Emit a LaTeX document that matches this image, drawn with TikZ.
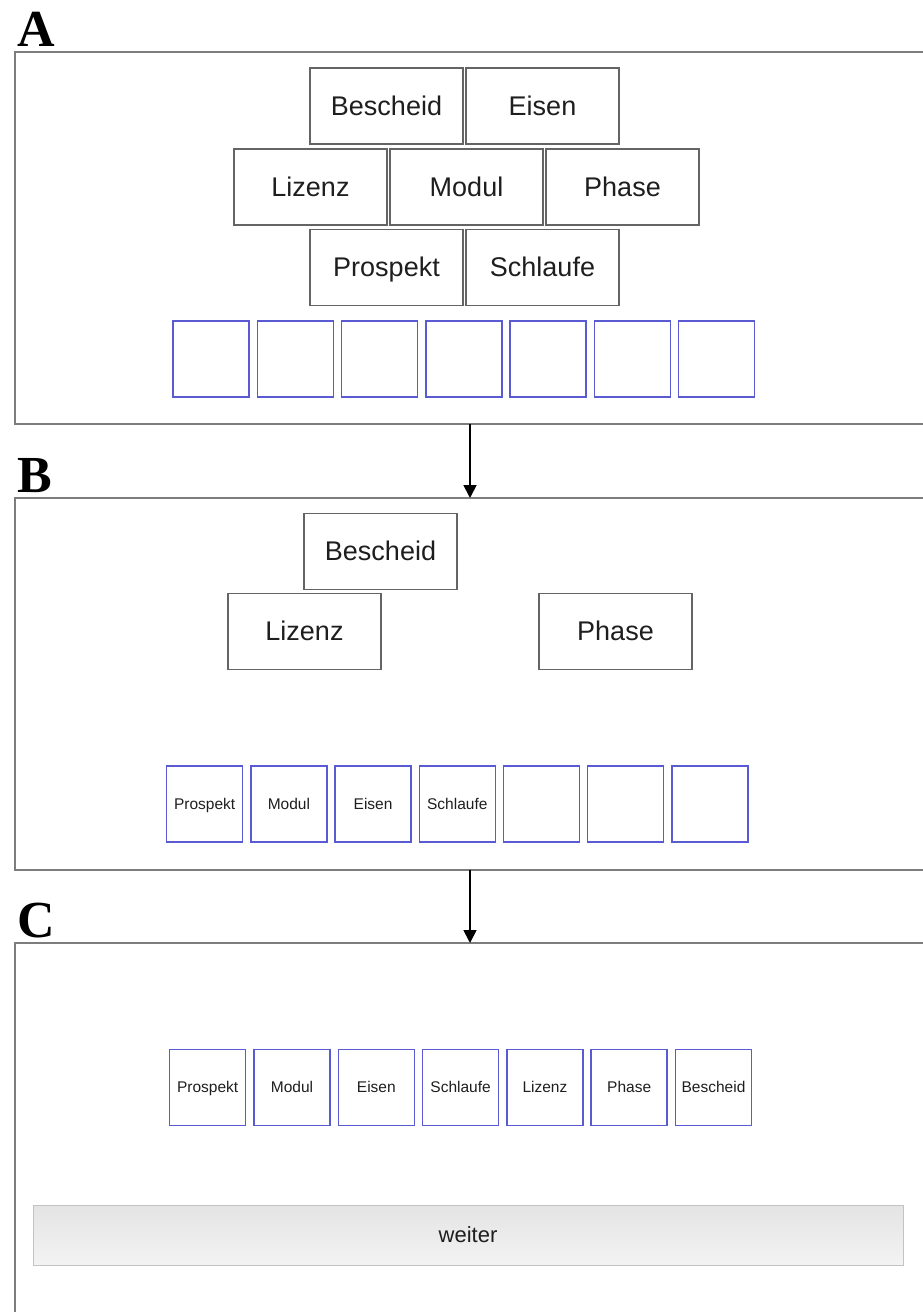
\documentclass[tikz,border=0pt]{standalone}
\usepackage{fontspec}
\setmainfont{Liberation Sans}
\newfontfamily\labelfont{Liberation Serif}
\usetikzlibrary{arrows.meta}
\definecolor{framegray}{RGB}{125,125,125}
\definecolor{tilegray}{RGB}{100,100,100}
\definecolor{slotblue}{RGB}{90,90,210}
\definecolor{txt}{RGB}{30,30,30}
\definecolor{btnborder}{RGB}{195,195,195}
\definecolor{btntop}{RGB}{228,228,228}
\definecolor{btnbot}{RGB}{243,243,243}
\tikzset{
  x=1pt, y=-1pt,
  panel/.style={draw=framegray, line width=2pt},
  tile/.style={draw=tilegray, line width=1.1pt, minimum width=153pt, minimum height=76pt, inner sep=0pt, text=txt, font=\fontsize{27}{30}\selectfont, text height=24.3pt, text depth=5.4pt},
  slot/.style={draw=slotblue, line width=1.5pt, minimum width=76pt, minimum height=76pt, inner sep=0pt, text=txt, font=\fontsize{15.5}{17}\selectfont, text height=14pt, text depth=3.1pt},
  plabel/.style={anchor=south west, inner sep=0pt, font=\labelfont\bfseries\fontsize{52}{54}\selectfont},
  flow/.style={draw=black, line width=1.8pt, -{Triangle[length=13pt,width=13pt]}},
  button/.style={draw=btnborder, line width=1pt, top color=btntop, bottom color=btnbot, minimum width=870pt, minimum height=60pt, inner sep=0pt, text=txt, font=\fontsize{22}{24}\selectfont, text height=19.8pt, text depth=4.4pt}
}
\begin{document}
\begin{tikzpicture}
\useasboundingbox (0,0) rectangle (922,1312);
% panel frames (open to the right, C also open at the bottom)
\draw[panel] (930,52) -- (15,52) -- (15,424) -- (930,424);
\draw[panel] (930,498) -- (15,498) -- (15,870) -- (930,870);
\draw[panel] (930,943) -- (15,943) -- (15,1320);
\coordinate (Abot) at (470,424);
\coordinate (Btop) at (470,498);
\coordinate (Bbot) at (470,870);
\coordinate (Ctop) at (470,943);
% labels
\node[plabel] (lA) at (17,47) {A};
\node[plabel] (lB) at (17,493) {B};
\node[plabel] (lC) at (17,938) {C};
% panel A
\node[tile] (a1) at (386.5,106) {Bescheid};
\node[tile] (a2) at (542.5,106) {Eisen};
\node[tile] (a3) at (310.5,187) {Lizenz};
\node[tile] (a4) at (466.5,187) {Modul};
\node[tile] (a5) at (622.5,187) {Phase};
\node[tile] (a6) at (386.5,267.5) {Prospekt};
\node[tile] (a7) at (542.5,267.5) {Schlaufe};
\foreach \i in {0,...,6}{
  \node[slot] (as\i) at (211+84.25*\i,359) {};
}
% panel B
\node[tile] (b1) at (380.5,551.5) {Bescheid};
\node[tile] (b2) at (304.5,631.5) {Lizenz};
\node[tile] (b3) at (615.5,631.5) {Phase};
\node[slot] (bs0) at (204.7,804) {Prospekt};
\node[slot] (bs1) at (288.9,804) {Modul};
\node[slot] (bs2) at (373.1,804) {Eisen};
\node[slot] (bs3) at (457.3,804) {Schlaufe};
\node[slot] (bs4) at (541.5,804) {};
\node[slot] (bs5) at (625.7,804) {};
\node[slot] (bs6) at (709.9,804) {};
% panel C
\node[slot] (cs0) at (207.7,1087.5) {Prospekt};
\node[slot] (cs1) at (292.0,1087.5) {Modul};
\node[slot] (cs2) at (376.3,1087.5) {Eisen};
\node[slot] (cs3) at (460.6,1087.5) {Schlaufe};
\node[slot] (cs4) at (544.9,1087.5) {Lizenz};
\node[slot] (cs5) at (629.2,1087.5) {Phase};
\node[slot] (cs6) at (713.5,1087.5) {Bescheid};
\node[button] (weiter) at (468,1235) {weiter};
% arrows
\draw[flow] (Abot) -- (Btop);
\draw[flow] (Bbot) -- (Ctop);
\end{tikzpicture}
\end{document}
